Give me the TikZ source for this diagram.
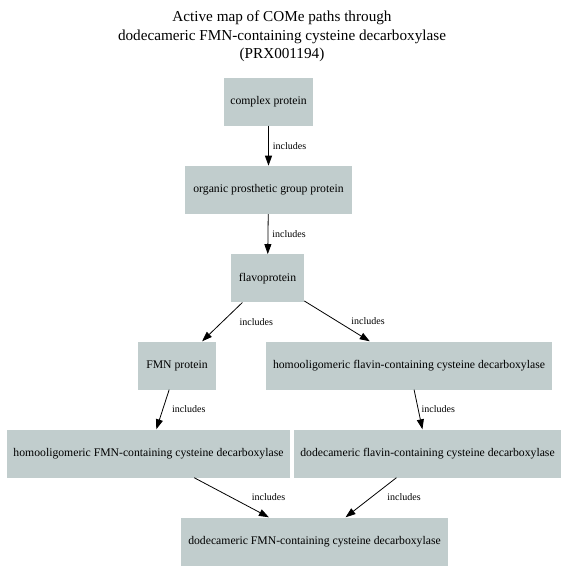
\documentclass[tikz,border=0pt]{standalone}
\usepackage{fontspec}
\setmainfont{Liberation Serif}
\usepackage{xcolor}
\usetikzlibrary{arrows.meta,positioning}
\definecolor{boxfill}{HTML}{C1CDCD}

\begin{document}
\begin{tikzpicture}[x=1pt,y=-1pt,
  box/.style={fill=boxfill,minimum height=48pt,inner sep=0pt,
              font=\fontsize{11.7}{14}\selectfont,align=center},
  arr/.style={-{Triangle[length=10pt,width=7pt]},draw=black,line width=0.8pt},
  lbl/.style={font=\fontsize{10}{11}\selectfont,inner sep=0pt,anchor=west}
]
\useasboundingbox (0,0) rectangle (564,582);
\node[font=\fontsize{15.2}{18.5}\selectfont,align=center] (title) at (282,36.5)
  {Active map of COMe paths through\\dodecameric FMN-containing cysteine decarboxylase\\(PRX001194)};
\node[box,minimum width=89pt] (cplx) at (268.5,101.5) {complex protein};
\node[box,minimum width=167pt,below=40pt of cplx] (opg) {organic prosthetic group protein};
\node[box,minimum width=73pt,below=40pt of opg,xshift=-1pt] (flavo) {flavoprotein};
\node[box,minimum width=78pt] (fmn) at (177,365.5) {FMN protein};
\node[box,minimum width=286pt] (hflav) at (409,365.5) {homooligomeric flavin-containing cysteine decarboxylase};
\node[box,minimum width=283pt] (hfmn) at (148.5,453.5) {homooligomeric FMN-containing cysteine decarboxylase};
\node[box,minimum width=267pt] (dflav) at (427.5,453.5) {dodecameric flavin-containing cysteine decarboxylase};
\node[box,minimum width=267pt] (dfmn) at (314.5,541.5) {dodecameric FMN-containing cysteine decarboxylase};
% includes edges
\draw[arr] (cplx) -- node[lbl,xshift=4pt] {includes} (opg);
\draw[arr] (opg) -- node[lbl,xshift=4pt] {includes} (flavo);
\draw[arr] (flavo) -- node[lbl,xshift=17pt] {includes} (fmn);
\draw[arr] (flavo) -- node[lbl,xshift=14pt] {includes} (hflav);
\draw[arr] (fmn) -- node[lbl,xshift=9pt] {includes} (hfmn);
\draw[arr] (hflav) -- node[lbl,xshift=3pt] {includes} (dflav);
\draw[arr] (hfmn) -- node[lbl,xshift=20pt] {includes} (dfmn);
\draw[arr] (dflav) -- node[lbl,xshift=16pt] {includes} (dfmn);
\end{tikzpicture}
\end{document}
